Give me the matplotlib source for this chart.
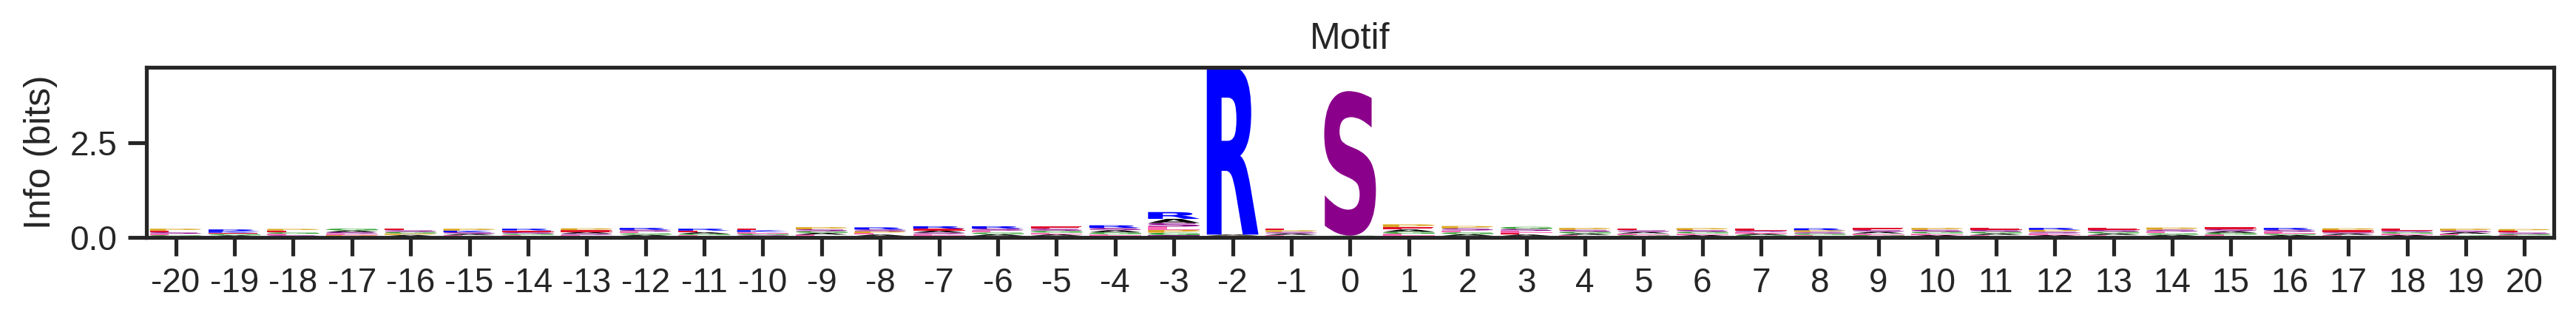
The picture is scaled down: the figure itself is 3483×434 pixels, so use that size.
import matplotlib
matplotlib.use("Agg")
import matplotlib.pyplot as plt
import seaborn as sns
from matplotlib.textpath import TextPath
from matplotlib.patches import PathPatch
from matplotlib.font_manager import FontProperties
from matplotlib.transforms import Affine2D

# ------------------------------------------------------------
# data: one stack per position, letters listed bottom -> top
# ------------------------------------------------------------
positions = list(range(-20, 21))

stack_letters = [
    "KGLSEP",   # -20
    "TAGEKR",   # -19
    "ASLGEP",   # -18
    "KPLSAG",   # -17
    "TAPGSE",   # -16
    "GLASKP",   # -15
    "ALGSER",   # -14
    "TLSAEP",   # -13
    "KAGLSR",   # -12
    "PLGAER",   # -11
    "ASGLKE",   # -10
    "TLAGSP",   # -9
    "KALPSR",   # -8
    "GLSAER",   # -7
    "TAGLSR",   # -6
    "PALGSE",   # -5
    "KLGASR",   # -4
    "TGPLSAR",  # -3
    "SPAR",     # -2
    "GLASPE",   # -1
    "PGS",      # 0
    "KLGAEP",   # 1
    "TAGLSP",   # 2
    "KAELSG",   # 3
    "TLAGSP",   # 4
    "KGLASE",   # 5
    "TALGSP",   # 6
    "KGALSE",   # 7
    "ALGSPR",   # 8
    "TGLASE",   # 9
    "KALGSP",   # 10
    "TLAGSE",   # 11
    "GALSPR",   # 12
    "KLAGSE",   # 13
    "TAGLSP",   # 14
    "KLGASE",   # 15
    "TAGLSR",   # 16
    "GLASEP",   # 17
    "KALGSE",   # 18
    "TGLASP",   # 19
    "ALGSEP",   # 20
]

stack_heights = [
    [0.030, 0.030, 0.035, 0.040, 0.045, 0.050],  # -20
    [0.025, 0.030, 0.035, 0.035, 0.040, 0.045],  # -19
    [0.030, 0.030, 0.035, 0.040, 0.045, 0.045],  # -18
    [0.030, 0.035, 0.035, 0.040, 0.045, 0.050],  # -17
    [0.030, 0.035, 0.040, 0.040, 0.045, 0.050],  # -16
    [0.030, 0.030, 0.035, 0.040, 0.045, 0.050],  # -15
    [0.030, 0.035, 0.035, 0.040, 0.045, 0.045],  # -14
    [0.030, 0.035, 0.040, 0.040, 0.045, 0.050],  # -13
    [0.035, 0.035, 0.040, 0.045, 0.045, 0.050],  # -12
    [0.030, 0.030, 0.035, 0.040, 0.045, 0.050],  # -11
    [0.030, 0.035, 0.040, 0.040, 0.045, 0.050],  # -10
    [0.035, 0.040, 0.045, 0.045, 0.050, 0.055],  # -9
    [0.035, 0.040, 0.040, 0.045, 0.050, 0.055],  # -8
    [0.040, 0.045, 0.045, 0.050, 0.055, 0.060],  # -7
    [0.040, 0.045, 0.045, 0.050, 0.055, 0.060],  # -6
    [0.040, 0.040, 0.045, 0.050, 0.055, 0.065],  # -5
    [0.040, 0.045, 0.050, 0.055, 0.060, 0.070],  # -4
    [0.060, 0.065, 0.075, 0.085, 0.095, 0.110, 0.180],  # -3
    [0.020, 0.025, 0.030, 4.450],  # -2
    [0.030, 0.035, 0.040, 0.040, 0.045, 0.050],  # -1
    [0.020, 0.025, 3.820],  # 0
    [0.045, 0.050, 0.055, 0.060, 0.065, 0.070],  # 1
    [0.040, 0.045, 0.050, 0.050, 0.055, 0.060],  # 2
    [0.035, 0.040, 0.045, 0.050, 0.055, 0.055],  # 3
    [0.030, 0.035, 0.040, 0.045, 0.050, 0.050],  # 4
    [0.030, 0.035, 0.040, 0.040, 0.045, 0.050],  # 5
    [0.030, 0.035, 0.040, 0.045, 0.045, 0.050],  # 6
    [0.030, 0.035, 0.035, 0.040, 0.045, 0.050],  # 7
    [0.030, 0.035, 0.040, 0.040, 0.045, 0.050],  # 8
    [0.030, 0.035, 0.040, 0.045, 0.045, 0.050],  # 9
    [0.030, 0.035, 0.040, 0.045, 0.050, 0.050],  # 10
    [0.030, 0.035, 0.040, 0.045, 0.050, 0.055],  # 11
    [0.030, 0.035, 0.040, 0.045, 0.050, 0.050],  # 12
    [0.030, 0.035, 0.040, 0.045, 0.050, 0.055],  # 13
    [0.035, 0.035, 0.040, 0.045, 0.050, 0.055],  # 14
    [0.035, 0.040, 0.045, 0.045, 0.050, 0.055],  # 15
    [0.030, 0.035, 0.040, 0.045, 0.050, 0.050],  # 16
    [0.030, 0.035, 0.040, 0.040, 0.045, 0.050],  # 17
    [0.030, 0.035, 0.035, 0.040, 0.045, 0.050],  # 18
    [0.030, 0.030, 0.035, 0.040, 0.045, 0.050],  # 19
    [0.025, 0.030, 0.035, 0.040, 0.045, 0.045],  # 20
]

# residue colours
residue_colors = {
    "R": "#0000FF", "K": "#0000FF", "H": "#0000FF",
    "S": "#8B008B", "T": "#8B008B",
    "D": "#E0102F", "E": "#E0102F",
    "G": "#2CA02C", "Y": "#2CA02C", "C": "#2CA02C",
    "N": "#FF1493", "Q": "#FF1493",
    "P": "#DAA520",
    "A": "#000000", "V": "#000000", "L": "#FF69B4", "I": "#000000",
    "M": "#000000", "F": "#000000", "W": "#000000",
}

y_ticks = [0.0, 2.5]
y_max = 4.5

sns.set_theme(style="ticks")
plt.rcParams["font.family"] = ["Liberation Sans", "DejaVu Sans"]

glyph_font = FontProperties(family="DejaVu Sans", weight="bold")
glyph_width = 0.88


def draw_glyph(ax, ch, x, y0, h, color):
    """Растянуть символ в прямоугольник ширины glyph_width и высоты h."""
    tp = TextPath((0, 0), ch, size=1, prop=glyph_font)
    ext = tp.get_extents()
    tr = (Affine2D()
          .translate(-ext.x0, -ext.y0)
          .scale(glyph_width / ext.width, h / ext.height)
          .translate(x - glyph_width / 2, y0))
    ax.add_patch(PathPatch(tr.transform_path(tp), facecolor=color,
                           edgecolor="none", linewidth=0))


fig = plt.figure(figsize=(3483 / 300, 434 / 300), dpi=300)
ax = fig.add_axes([0.0568, 0.2604, 0.9346, 0.5306])

for pos, letters, heights in zip(positions, stack_letters, stack_heights):
    y = 0.0
    for ch, h in zip(letters, heights):
        draw_glyph(ax, ch, pos, y, h, residue_colors[ch])
        y += h

ax.set_xlim(-20.5, 20.5)
ax.set_ylim(0, y_max)
ax.set_xticks(positions)
ax.set_xticklabels([str(p) for p in positions], fontsize=11)
ax.set_yticks(y_ticks)
ax.set_yticklabels([f"{t:.1f}" for t in y_ticks], fontsize=11)
ax.set_ylabel("Info (bits)", fontsize=12)
ax.set_title("Motif", fontsize=12)
for s in ax.spines.values():
    s.set_linewidth(1.25)

fig.savefig("out.png", dpi=300)
